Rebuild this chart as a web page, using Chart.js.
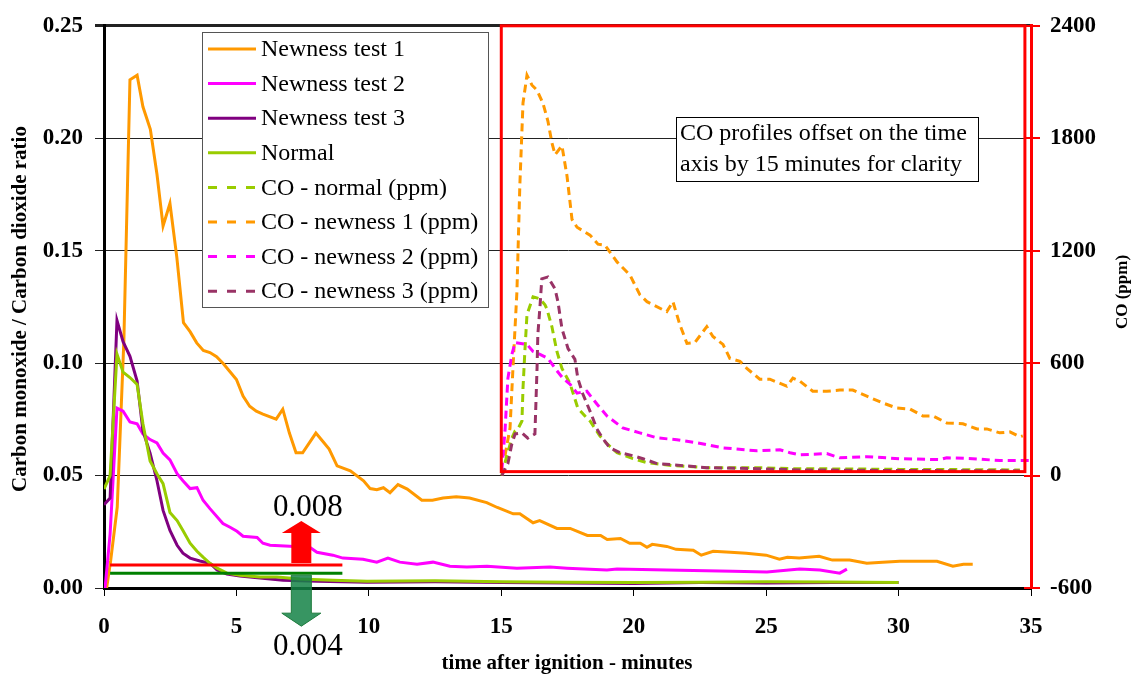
<!DOCTYPE html>
<html>
<head>
<meta charset="utf-8">
<script src="https://cdn.jsdelivr.net/npm/chart.js@4.4.1/dist/chart.umd.min.js"></script>
<style>
  html, body { margin: 0; padding: 0; background: #fff; }
</style>
</head>
<body>
<canvas id="chart" width="1136" height="675"></canvas>
<script>
// ratio series (left axis), time in minutes
const timeTest1 = [0.1, 0.25, 0.5, 0.75, 0.98, 1.25, 1.47, 1.75, 2.0, 2.23, 2.49, 2.75, 3.0, 3.25, 3.5, 3.75, 4.0, 4.25, 4.5, 4.75, 5.0, 5.25, 5.5, 5.75, 6.0, 6.5, 6.75, 7.0, 7.25, 7.5, 8.0, 8.25, 8.5, 8.8, 9.3, 9.8, 10.05, 10.3, 10.55, 10.8, 11.1, 11.45, 12.0, 12.4, 12.8, 13.3, 13.8, 14.45, 14.85, 15.45, 15.7, 16.2, 16.45, 17.1, 17.6, 18.25, 18.75, 19.0, 19.5, 19.85, 20.25, 20.5, 20.7, 21.25, 21.6, 22.25, 22.55, 23.0, 23.65, 24.25, 25.0, 25.5, 25.8, 26.25, 27.0, 27.5, 28.15, 28.8, 29.4, 30.05, 31.45, 32.05, 32.45, 32.8];
const ratioTest1 = [0.0, 0.012, 0.036, 0.11, 0.226, 0.228, 0.214, 0.204, 0.184, 0.161, 0.171, 0.147, 0.118, 0.114, 0.109, 0.1056, 0.1047, 0.1029, 0.0998, 0.0963, 0.0927, 0.0853, 0.0808, 0.0786, 0.0773, 0.0751, 0.0795, 0.0689, 0.0601, 0.0601, 0.0689, 0.0654, 0.0618, 0.0543, 0.0521, 0.0477, 0.0442, 0.0437, 0.0446, 0.0424, 0.046, 0.044, 0.039, 0.039, 0.040, 0.0406, 0.040, 0.038, 0.0358, 0.033, 0.033, 0.029, 0.030, 0.0265, 0.0265, 0.0234, 0.0234, 0.0216, 0.022, 0.0199, 0.0199, 0.0181, 0.0194, 0.0185, 0.0172, 0.0168, 0.0146, 0.0163, 0.0159, 0.0155, 0.0146, 0.0128, 0.0137, 0.0133, 0.0141, 0.0124, 0.0124, 0.011, 0.0115, 0.0119, 0.0119, 0.0097, 0.0106, 0.0106];

const timeTest2 = [0.04, 0.23, 0.49, 0.72, 0.98, 1.25, 1.47, 1.74, 2.0, 2.23, 2.49, 2.76, 2.98, 3.25, 3.51, 3.74, 4.0, 4.49, 4.76, 5.02, 5.25, 5.78, 6.0, 6.27, 7.02, 7.78, 8.04, 8.64, 9.02, 9.78, 10.3, 10.72, 11.17, 11.82, 12.42, 13.06, 13.7, 14.46, 15.59, 16.84, 17.48, 18.99, 19.37, 21.25, 23.74, 25.03, 26.27, 27.03, 27.78, 28.05];
const ratioTest2 = [0, 0.024, 0.080, 0.0786, 0.0738, 0.073, 0.0685, 0.066, 0.0645, 0.060, 0.057, 0.0508, 0.0477, 0.0442, 0.0446, 0.039, 0.0353, 0.0287, 0.027, 0.0252, 0.023, 0.0225, 0.0199, 0.019, 0.0186, 0.018, 0.0159, 0.0146, 0.0133, 0.0128, 0.0115, 0.0133, 0.0115, 0.0106, 0.0115, 0.0097, 0.0093, 0.0097, 0.0088, 0.0093, 0.0088, 0.008, 0.0084, 0.008, 0.0075, 0.0071, 0.0084, 0.008, 0.0066, 0.0084];

const timeTest3 = [0, 0.23, 0.49, 0.72, 0.98, 1.25, 1.47, 1.74, 2.0, 2.23, 2.49, 2.76, 2.98, 3.25, 3.62, 4.0, 4.27, 4.64, 5.13, 5.89, 6.76, 8.04, 9.93, 12.5, 15, 17.5, 20, 22.5, 25, 27.5, 30];
const ratioTest3 = [0.037, 0.040, 0.119, 0.1095, 0.103, 0.092, 0.0698, 0.060, 0.0477, 0.0345, 0.0256, 0.019, 0.0155, 0.0133, 0.012, 0.011, 0.008, 0.0062, 0.0053, 0.0044, 0.0035, 0.003, 0.0026, 0.0028, 0.0024, 0.0022, 0.002, 0.0024, 0.0022, 0.0025, 0.0024];

const timeNormal = [0, 0.23, 0.49, 0.72, 0.98, 1.25, 1.47, 1.74, 2.0, 2.23, 2.49, 2.76, 2.98, 3.25, 3.51, 3.74, 4.0, 4.27, 4.64, 5.13, 5.89, 6.53, 7.4, 8.64, 9.93, 12.5, 15, 17.5, 20, 22.5, 25, 27.5, 30];
const ratioNormal = [0.044, 0.050, 0.104, 0.096, 0.0936, 0.0905, 0.073, 0.0565, 0.0508, 0.0464, 0.0336, 0.030, 0.0256, 0.0199, 0.0163, 0.0137, 0.011, 0.0088, 0.0066, 0.0057, 0.0049, 0.0049, 0.004, 0.0035, 0.003, 0.0032, 0.0028, 0.0026, 0.0024, 0.0026, 0.0028, 0.0027, 0.0025];

// CO series (right axis, ppm), already shifted by 15 minutes
const timeCoNormal = [15.02, 15.21, 15.4, 15.52, 15.63, 15.78, 15.82, 15.89, 15.97, 16.2, 16.46, 16.65, 16.72, 16.91, 17.1, 17.29, 17.59, 17.89, 18.16, 18.35, 18.72, 18.99, 19.37, 19.97, 20.5, 21.48, 22.76, 24.65, 25.9, 28.16, 30.05, 31.94, 34.58];
const coNormal = [0, 106, 200, 238, 249, 291, 466, 662, 858, 954, 943, 911, 890, 795, 662, 572, 493, 360, 318, 291, 212, 170, 122, 90, 69, 53, 42, 42, 37, 35, 33, 32, 30];

const timeCo1 = [15.14, 15.33, 15.45, 15.59, 15.7, 15.82, 15.97, 16.16, 16.35, 16.57, 16.76, 16.91, 17.03, 17.29, 17.48, 17.67, 17.86, 18.35, 18.65, 18.91, 19.37, 19.86, 20.23, 20.5, 21.1, 21.25, 21.48, 21.74, 22.01, 22.31, 22.76, 22.99, 23.37, 23.63, 24.01, 24.27, 24.76, 25.14, 25.78, 26.01, 26.27, 26.76, 27.29, 27.78, 28.27, 28.8, 29.41, 29.94, 30.43, 30.92, 31.3, 31.82, 32.43, 32.96, 33.33, 33.82, 34.2, 34.58, 34.69];
const coNewness1 = [106, 254, 600, 980, 1548, 1988, 2136, 2083, 2056, 1988, 1892, 1776, 1712, 1760, 1600, 1367, 1325, 1283, 1235, 1230, 1140, 1070, 965, 928, 885, 875, 928, 806, 705, 710, 795, 742, 700, 625, 610, 572, 514, 514, 477, 520, 504, 450, 450, 456, 456, 424, 387, 360, 355, 318, 318, 281, 276, 249, 249, 228, 233, 207, 212];

const timeCo2 = [15.02, 15.14, 15.25, 15.4, 15.52, 15.97, 16.2, 16.46, 16.76, 17.03, 17.33, 17.59, 17.86, 18.23, 18.61, 18.99, 19.59, 20.23, 20.88, 21.63, 22.39, 23.37, 24.65, 25.52, 25.9, 26.27, 27.29, 27.78, 28.8, 30.05, 31.56, 31.82, 32.8, 33.82, 34.96];
const coNewness2 = [27, 238, 519, 647, 710, 700, 662, 647, 625, 572, 519, 488, 440, 450, 382, 318, 254, 228, 201, 191, 175, 148, 132, 138, 122, 111, 117, 95, 101, 90, 85, 95, 90, 80, 80];

const timeCo3 = [15.02, 15.25, 15.4, 15.52, 15.78, 16.0, 16.27, 16.31, 16.35, 16.38, 16.46, 16.53, 16.76, 17.03, 17.14, 17.29, 17.52, 17.78, 17.89, 18.08, 18.35, 18.61, 18.84, 19.1, 19.48, 19.97, 20.35, 20.88, 21.86, 22.76, 24.65, 26.27, 30.05, 34.58];
const coNewness3 = [0, 64, 170, 222, 228, 200, 222, 397, 572, 752, 900, 1050, 1060, 996, 927, 784, 678, 620, 519, 435, 344, 249, 196, 148, 122, 106, 90, 64, 53, 42, 37, 30, 27, 25];

// threshold markers
const thresholdTimes = [0.23, 9.0];
const thresholdHigh = 0.0102;
const thresholdLow = 0.0066;
const arrowTime = 7.45;

const leftTicks = [0, 0.05, 0.10, 0.15, 0.20, 0.25];
const rightTicks = [-600, 0, 600, 1200, 1800, 2400];
const xTicks = [0, 5, 10, 15, 20, 25, 30, 35];

const legendOrder = ['Newness test 1', 'Newness test 2', 'Newness test 3', 'Normal',
  'CO - normal (ppm)', 'CO - newness 1 (ppm)', 'CO - newness 2 (ppm)', 'CO - newness 3 (ppm)'];

const FONT = "'Liberation Serif', 'Times New Roman', serif";

function pts(ts, vs) {
  return ts.map((t, i) => ({ x: t, y: vs[i] }));
}

function solid(label, ts, vs, color) {
  return { label, data: pts(ts, vs), borderColor: color, backgroundColor: color,
    borderWidth: 3, pointRadius: 0, tension: 0, yAxisID: 'y' };
}

function dashed(label, ts, vs, color) {
  return { label, data: pts(ts, vs), borderColor: color, backgroundColor: color,
    borderWidth: 3, borderDash: [8, 5], pointRadius: 0, tension: 0, yAxisID: 'y1' };
}

const datasets = [
  { label: 'limit high', data: pts(thresholdTimes, [thresholdHigh, thresholdHigh]), borderColor: '#FF0000',
    borderWidth: 3, pointRadius: 0, yAxisID: 'y' },
  { label: 'limit low', data: pts(thresholdTimes, [thresholdLow, thresholdLow]), borderColor: '#008000',
    borderWidth: 3, pointRadius: 0, yAxisID: 'y' },
  solid('Normal', timeNormal, ratioNormal, '#99CC00'),
  solid('Newness test 3', timeTest3, ratioTest3, '#800080'),
  solid('Newness test 2', timeTest2, ratioTest2, '#FF00FF'),
  solid('Newness test 1', timeTest1, ratioTest1, '#FF9900'),
  dashed('CO - newness 3 (ppm)', timeCo3, coNewness3, '#993366'),
  dashed('CO - newness 2 (ppm)', timeCo2, coNewness2, '#FF00FF'),
  dashed('CO - normal (ppm)', timeCoNormal, coNormal, '#99CC00'),
  dashed('CO - newness 1 (ppm)', timeCo1, coNewness1, '#FF9900')
];

const extras = {
  id: 'extras',
  afterDatasetsDraw(chart) {
    const ctx = chart.ctx;
    const x = chart.scales.x, y = chart.scales.y, y1 = chart.scales.y1;

    // red frame round the CO profiles
    ctx.save();
    ctx.strokeStyle = '#FF0000';
    ctx.lineWidth = 3;
    const bx0 = x.getPixelForValue(15), bx1 = x.getPixelForValue(34.77);
    const by0 = y1.getPixelForValue(2400), by1 = y1.getPixelForValue(21);
    ctx.strokeRect(bx0, by0, bx1 - bx0, by1 - by0);

    // right axis ticks cross the axis inwards too
    ctx.lineWidth = 2;
    rightTicks.forEach(v => {
      const ty = Math.round(y1.getPixelForValue(v));
      ctx.beginPath();
      ctx.moveTo(chart.chartArea.right - 7, ty);
      ctx.lineTo(chart.chartArea.right, ty);
      ctx.stroke();
    });
    ctx.restore();

    // arrows
    const ax = x.getPixelForValue(arrowTime);
    const yHigh = y.getPixelForValue(thresholdHigh);
    const yLow = y.getPixelForValue(thresholdLow);
    ctx.save();
    ctx.fillStyle = '#FF0000';
    ctx.beginPath();
    ctx.moveTo(ax - 10, yHigh - 2);
    ctx.lineTo(ax - 10, yHigh - 32);
    ctx.lineTo(ax - 19.5, yHigh - 32);
    ctx.lineTo(ax, yHigh - 44);
    ctx.lineTo(ax + 19.5, yHigh - 32);
    ctx.lineTo(ax + 10, yHigh - 32);
    ctx.lineTo(ax + 10, yHigh - 2);
    ctx.closePath();
    ctx.fill();

    ctx.fillStyle = 'rgba(20,130,70,0.85)';
    ctx.strokeStyle = '#1E7B3C';
    ctx.lineWidth = 1;
    ctx.beginPath();
    ctx.moveTo(ax - 10, yLow + 2);
    ctx.lineTo(ax - 10, yLow + 40);
    ctx.lineTo(ax - 19.5, yLow + 40);
    ctx.lineTo(ax, yLow + 53);
    ctx.lineTo(ax + 19.5, yLow + 40);
    ctx.lineTo(ax + 10, yLow + 40);
    ctx.lineTo(ax + 10, yLow + 2);
    ctx.closePath();
    ctx.fill();
    ctx.stroke();

    ctx.fillStyle = '#000';
    ctx.font = '31px ' + FONT;
    ctx.textAlign = 'center';
    ctx.textBaseline = 'middle';
    ctx.fillText('0.008', ax + 6.5, yHigh - 57);
    ctx.fillText('0.004', ax + 6.5, yLow + 74);
    ctx.restore();
  },
  afterDraw(chart) {
    const ctx = chart.ctx;
    ctx.save();

    // legend
    ctx.fillStyle = '#fff';
    ctx.fillRect(202, 32, 286, 275);
    ctx.strokeStyle = '#555';
    ctx.lineWidth = 1;
    ctx.strokeRect(202.5, 32.5, 286, 275);
    ctx.font = '24px ' + FONT;
    ctx.textAlign = 'left';
    ctx.textBaseline = 'middle';
    legendOrder.forEach((name, i) => {
      const ds = chart.data.datasets.find(d => d.label === name);
      const ly = 49 + i * 34.6;
      ctx.strokeStyle = ds.borderColor;
      ctx.lineWidth = 3;
      ctx.setLineDash(ds.borderDash ? [9, 10] : []);
      ctx.beginPath();
      ctx.moveTo(208, ly);
      ctx.lineTo(256, ly);
      ctx.stroke();
      ctx.setLineDash([]);
      ctx.fillStyle = '#000';
      ctx.fillText(name, 261, ly + 1);
    });

    // note box
    ctx.fillStyle = '#fff';
    ctx.fillRect(676, 117, 302, 64);
    ctx.strokeStyle = '#000';
    ctx.lineWidth = 1;
    ctx.strokeRect(676.5, 117.5, 302, 64);
    ctx.fillStyle = '#000';
    ctx.fillText('CO profiles offset on the time', 680, 134);
    ctx.fillText('axis by 15 minutes for clarity', 680, 165);

    // axis titles
    ctx.font = 'bold 21px ' + FONT;
    ctx.textAlign = 'center';
    ctx.save();
    ctx.translate(21, 309);
    ctx.rotate(-Math.PI / 2);
    ctx.fillText('Carbon monoxide / Carbon dioxide ratio', 0, 0);
    ctx.restore();

    ctx.save();
    ctx.font = 'bold 17px ' + FONT;
    ctx.translate(1123, 292);
    ctx.rotate(-Math.PI / 2);
    ctx.fillText('CO (ppm)', 0, 0);
    ctx.restore();

    ctx.fillText('time after ignition - minutes', 567, 664);
    ctx.restore();
  }
};

new Chart(document.getElementById('chart').getContext('2d'), {
  type: 'line',
  data: { datasets },
  options: {
    responsive: false,
    animation: false,
    layout: { padding: { top: 19, left: 0, right: 0, bottom: 0 } },
    plugins: {
      legend: { display: false },
      tooltip: { enabled: false }
    },
    scales: {
      x: {
        type: 'linear',
        min: 0,
        max: 35,
        afterFit: s => { s.height = 87; },
        afterBuildTicks: s => { s.ticks = xTicks.map(v => ({ value: v })); },
        ticks: { color: '#000', font: { family: FONT, size: 23, weight: 'bold' }, padding: 17, maxRotation: 0 },
        grid: { drawOnChartArea: false, color: '#000', tickLength: 8, lineWidth: 1 },
        border: { color: '#000', width: 3 }
      },
      y: {
        position: 'left',
        min: 0,
        max: 0.25,
        afterFit: s => { s.width = 104; },
        afterBuildTicks: s => { s.ticks = leftTicks.map(v => ({ value: v })); },
        ticks: {
          color: '#000', font: { family: FONT, size: 23, weight: 'bold' }, padding: 12,
          callback: v => v.toFixed(2)
        },
        grid: {
          color: '#222',
          tickLength: 9,
          lineWidth: c => (c.tick && c.tick.value === 0.25 ? 3 : 1)
        },
        border: { color: '#000', width: 3 }
      },
      y1: {
        position: 'right',
        min: -600,
        max: 2400,
        afterFit: s => { s.width = 105; },
        afterBuildTicks: s => { s.ticks = rightTicks.map(v => ({ value: v })); },
        ticks: {
          color: '#000', font: { family: FONT, size: 23, weight: 'bold' }, padding: 10,
          callback: v => String(v)
        },
        grid: { drawOnChartArea: false, color: '#FF0000', tickLength: 9, lineWidth: 2 },
        border: { color: '#FF0000', width: 3 }
      }
    }
  },
  plugins: [extras]
});
</script>
</body>
</html>
